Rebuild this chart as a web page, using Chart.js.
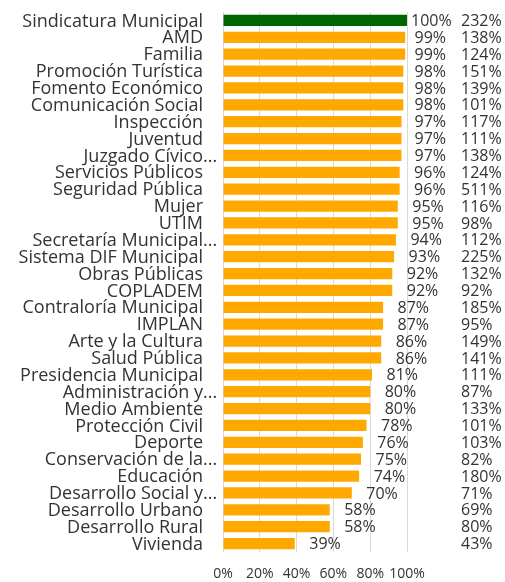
<!DOCTYPE html>
<html><head><meta charset="utf-8">
<script src="https://cdn.jsdelivr.net/npm/chart.js@4"></script>
<style>html,body{margin:0;padding:0;background:#fff}#wrap{width:505px;height:582px}</style>
</head><body><div id="wrap"><canvas id="c" width="505" height="582"></canvas></div>
<script>
const categories = ["Sindicatura Municipal","AMD","Familia","Promoción Turística","Fomento Económico","Comunicación Social","Inspección","Juventud","Juzgado Cívico...","Servicios Públicos","Seguridad Pública","Mujer","UTIM","Secretaría Municipal...","Sistema DIF Municipal","Obras Públicas","COPLADEM","Contraloría Municipal","IMPLAN","Arte y la Cultura","Salud Pública","Presidencia Municipal","Administración y...","Medio Ambiente","Protección Civil","Deporte","Conservación de la...","Educación","Desarrollo Social y...","Desarrollo Urbano","Desarrollo Rural","Vivienda"];
const avance = [100,99,99,98,98,98,97,97,97,96,96,95,95,94,93,92,92,87,87,86,86,81,80,80,78,76,75,74,70,58,58,39];
const segundo = [232,138,124,151,139,101,117,111,138,124,511,116,98,112,225,132,92,185,95,149,141,111,87,133,101,103,82,180,71,69,80,43];
const xTicks = [0,20,40,60,80,100];

const FONT = "'Open Sans', 'DejaVu Sans', sans-serif";
const TEXT = '#333333';
const barColors = avance.map((v,i)=> i===0 ? '#006400' : '#FFA800');

const labelsPlugin = {
  id:'labelsPlugin',
  afterDatasetsDraw(chart){
    const ctx = chart.ctx;
    const xs = chart.scales.x, ys = chart.scales.y;
    ctx.save();
    ctx.fillStyle = TEXT;
    ctx.textBaseline = 'middle';
    categories.forEach((c,i)=>{
      const y = ys.getPixelForValue(i) + 1;
      ctx.font = "18px " + FONT;
      let base = c, ell = '';
      if (c.endsWith('...')) { base = c.slice(0,-3); ell = '...'; }
      ctx.textAlign = 'right';
      ctx.fillText(base, 203, y);
      if (ell) { ctx.textAlign = 'left'; ctx.fillText(ell, 203, y); }
      ctx.font = "16px " + FONT;
      const end = xs.getPixelForValue(avance[i]);
      const t = avance[i] + '%';
      const w = ctx.measureText(t).width;
      const right = Math.max(Math.min(end + 46, 446), end + 4 + w);
      ctx.textAlign = 'right';
      ctx.fillText(t, right, y);
      ctx.textAlign = 'left';
      ctx.fillText(segundo[i] + '%', 461, y);
    });
    ctx.restore();
  }
};

new Chart(document.getElementById('c'), {
  type:'bar',
  data:{ labels: categories, datasets:[{ data: avance, backgroundColor: barColors, barPercentage:0.66, categoryPercentage:1 }]},
  options:{
    indexAxis:'y', responsive:false, animation:false,
    layout:{ padding:{ top:12, right:98, bottom:0, left:0 } },
    plugins:{ legend:{display:false}, tooltip:{enabled:false} },
    scales:{
      x:{ min:0, max:100, afterBuildTicks(s){ s.ticks = xTicks.map(v=>({value:v})); },
        afterFit(s){ s.height = 30; },
        grid:{ color:'#d9d9d9', drawTicks:false, lineWidth:1 }, border:{display:false},
        ticks:{ padding:14, color:TEXT, maxRotation:0, minRotation:0, autoSkip:false, font:{family:FONT, size:14}, callback:v=>v+'%' } },
      y:{ ticks:{display:false}, grid:{display:false}, border:{display:false},
        afterFit(s){ s.width = 223; } }
    }
  },
  plugins:[labelsPlugin]
});
</script></body></html>
